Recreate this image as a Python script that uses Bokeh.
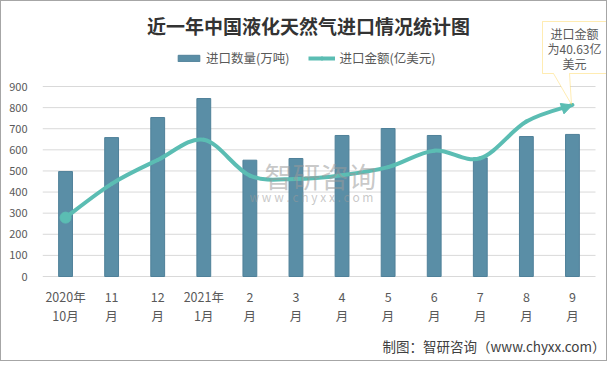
import numpy as np
from bokeh.plotting import figure
from bokeh.models import (Range1d, FixedTicker, Label, LabelSet, ColumnDataSource,
                          Legend, LegendItem, Arrow, NormalHead, PolyAnnotation)
from bokeh.core.properties import value
from bokeh.embed import file_html
from bokeh.resources import INLINE

# ---------------- data ----------------
categories = ["2020年\n10月", "11\n月", "12\n月", "2021年\n1月", "2\n月", "3\n月",
              "4\n月", "5\n月", "6\n月", "7\n月", "8\n月", "9\n月"]
volume = [497, 658, 753, 843, 551, 559, 668, 701, 668, 562, 663, 673]          # 万吨
amount = [13.95, 21.95, 27.6, 32.4, 23.9, 23.1, 24.0, 25.9, 29.8, 28.0, 36.7, 40.63]  # 亿美元
y_ticks = [0, 100, 200, 300, 400, 500, 600, 700, 800, 900]

title = "近一年中国液化天然气进口情况统计图"
series_names = ["进口数量(万吨)", "进口金额(亿美元)"]
callout_lines = ["进口金额", "为40.63亿", "美元"]
source_note = "制图：智研咨询（www.chyxx.com）"

BAR = "#5a8ea6"
TEAL = "#5bbdb3"
TXT = "#595959"
FONT = "Noto Sans CJK SC"

# ---------------- geometry (page pixels) ----------------
FL, FW, FT, FB = 42, 553, 86, 276   # plot area of the reference
OFF = 1                             # canvas origin on the page (after the 1px border)
W, H = 607, 361
PAGE_R, PAGE_T, PAGE_B = OFF + W, OFF, OFF + H
n = len(categories)
VMAX = 900.0
AMT_MAX = 45.0

def X(px):
    return (px - FL) / FW * n

def Y(py):
    return (FB - py) / (FB - FT) * VMAX

y0, y1 = Y(PAGE_B), Y(PAGE_T)
p = figure(width=W, height=H, output_backend="svg", toolbar_location=None,
           x_range=Range1d(0, X(PAGE_R)), y_range=Range1d(y0, y1),
           min_border_left=FL - OFF, min_border_right=0, min_border_top=0, min_border_bottom=0,
           outline_line_color=None, background_fill_color="white", border_fill_color="white")
p.styles = {"border": "1px solid #a6a6a6"}
p.extra_y_ranges = {"amt": Range1d(y0 * AMT_MAX / VMAX, y1 * AMT_MAX / VMAX)}

# axes / grid
p.xgrid.grid_line_color = None
p.ygrid.grid_line_color = None
p.xaxis.visible = False
p.yaxis.ticker = FixedTicker(ticks=y_ticks)
p.yaxis.axis_line_color = None
p.yaxis.major_tick_line_color = None
p.yaxis.minor_tick_line_color = None
p.yaxis.major_label_standoff = 9
p.yaxis.major_label_text_font = FONT
p.yaxis.major_label_text_font_size = "11px"
p.yaxis.major_label_text_color = TXT

# horizontal grid lines over the plot area only
p.segment(x0=[0] * len(y_ticks), x1=[n] * len(y_ticks), y0=y_ticks, y1=y_ticks,
          line_color="#d9d9d9", line_width=1)

xs = np.arange(n) + 0.5

# bars
src = ColumnDataSource(dict(x=xs, cat=categories, vol=volume))
bars = p.vbar(x="x", top="vol", bottom=0, width=0.3, source=src, fill_color=BAR, line_color="#4f8099")

# watermark
p.add_layout(Label(x=X(320), y=Y(175), text="智研咨询", text_align="center",
                   text_baseline="middle", text_font=FONT, text_font_size="28px",
                   text_color="#9a9a9a", text_alpha=0.55))
p.add_layout(Label(x=X(311), y=Y(196), text="w w w . c h y x x . c o m",
                   text_align="center", text_baseline="middle", text_font=FONT,
                   text_font_size="12px", text_color="#9a9a9a", text_alpha=0.55))

# smooth amount line (Catmull-Rom style bezier through the data points)
ys = np.array(amount, dtype=float)
xp = np.concatenate([[xs[0]], xs, [xs[-1]]])
yp = np.concatenate([[ys[0]], ys, [ys[-1]]])
cx0 = xs[:-1] + (xp[2:n + 1] - xp[0:n - 1]) / 6.0
cy0 = ys[:-1] + (yp[2:n + 1] - yp[0:n - 1]) / 6.0
cx1 = xs[1:] - (xp[3:n + 2] - xp[1:n]) / 6.0
cy1 = ys[1:] - (yp[3:n + 2] - yp[1:n]) / 6.0
p.bezier(x0=xs[:-1], y0=ys[:-1], x1=xs[1:], y1=ys[1:], cx0=cx0, cy0=cy0, cx1=cx1, cy1=cy1,
         y_range_name="amt", line_color=TEAL, line_width=4, line_cap="round")
p.scatter(x=[xs[0]], y=[ys[0]], size=11, marker="circle", fill_color=TEAL, line_color=TEAL,
          y_range_name="amt")
p.add_layout(Arrow(end=NormalHead(size=11, fill_color=TEAL, line_color=TEAL),
                   x_start=cx1[-1], y_start=cy1[-1], x_end=xs[-1], y_end=ys[-1],
                   line_color=TEAL, line_width=4, line_alpha=0, y_range_name="amt"))

# legend (proxy renderers with no visible data)
dummy_line = p.line(x=[np.nan, np.nan], y=[np.nan, np.nan], line_color=TEAL, line_width=4,
                    y_range_name="amt")
dummy_pt = p.scatter(x=[np.nan], y=[np.nan], size=9, marker="circle", fill_color=TEAL,
                     line_color=TEAL, y_range_name="amt")
legend = Legend(items=[LegendItem(label=series_names[0], renderers=[bars]),
                       LegendItem(label=series_names[1], renderers=[dummy_line, dummy_pt])],
                orientation="horizontal", location=(175 - FL, PAGE_B - 67),
                label_text_font=FONT, label_text_font_size="12.5px", label_text_color=TXT,
                glyph_width=27, glyph_height=8, label_height=14, label_standoff=4, spacing=19,
                padding=0, margin=0, border_line_alpha=0, background_fill_alpha=0)
p.add_layout(legend, "center")

# title
p.add_layout(Label(x=X(308), y=Y(25), text=title, text_align="center",
                   text_baseline="middle", text_font=FONT, text_font_size="19px",
                   text_font_style="bold", text_color="#333333"))

# x tick labels (two lines)
line1 = [c.split("\n")[0] for c in categories]
line2 = [c.split("\n")[1] for c in categories]
lsrc = ColumnDataSource(dict(x=xs, l1=line1, l2=line2, y1=[Y(296)] * n, y2=[Y(315)] * n))
for col, ycol in (("l1", "y1"), ("l2", "y2")):
    p.add_layout(LabelSet(x="x", y=ycol, text=col, source=lsrc,
                          text_align="center", text_baseline="middle", text_font=value(FONT),
                          text_font_size=value("12.5px"), text_color=TXT))

# callout
bx = [542, 606, 606, 569, 571, 553, 542]
by = [21, 21, 73, 73, 104, 73, 73]
p.add_layout(PolyAnnotation(xs=[X(v) for v in bx], ys=[Y(v) for v in by],
                            fill_color="white", fill_alpha=1, line_color="#ffc000", line_width=1))
for i, t in enumerate(callout_lines):
    p.add_layout(Label(x=X(574), y=Y(33 + 15 * i), text=t, text_align="center",
                       text_baseline="middle", text_font=FONT, text_font_size="12px", text_color=TXT))

# source note
p.add_layout(Label(x=X(605), y=Y(345), text=source_note, text_align="right",
                   text_baseline="middle", text_font=FONT, text_font_size="13.5px", text_color="#404040"))

open("out.html", "w").write(file_html(p, INLINE))
